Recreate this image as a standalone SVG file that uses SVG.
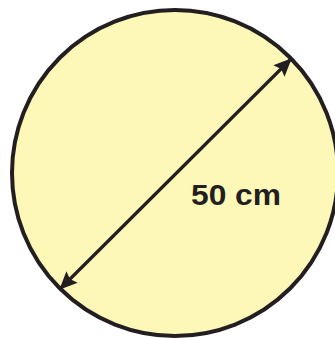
<svg xmlns="http://www.w3.org/2000/svg" width="335" height="338" viewBox="0 0 335 338">
  <defs>
    <marker id="ah" viewBox="0 0 18 16" refX="17" refY="8" markerWidth="18" markerHeight="16" markerUnits="userSpaceOnUse" orient="auto-start-reverse">
      <path d="M0,0 L18,8 L0,16 L3,8 z" fill="#231f20"/>
    </marker>
    <style>
      .lbl { font-family: "Liberation Sans", Arial, sans-serif; font-weight: bold; font-size: 30px; fill: #231f20; }
    </style>
  </defs>
  <rect width="335" height="338" fill="#ffffff"/>
  <g id="circle">
    <circle cx="175" cy="173" r="163" fill="#fdf8b8" stroke="#231f20" stroke-width="4"/>
  </g>
  <g id="connectors">
    <line x1="60" y1="289" x2="291" y2="59" stroke="#231f20" stroke-width="3.2" marker-start="url(#ah)" marker-end="url(#ah)"/>
  </g>
  <g id="label">
    <text class="lbl" x="191" y="205" textLength="90" lengthAdjust="spacingAndGlyphs">50 cm</text>
  </g>
</svg>
